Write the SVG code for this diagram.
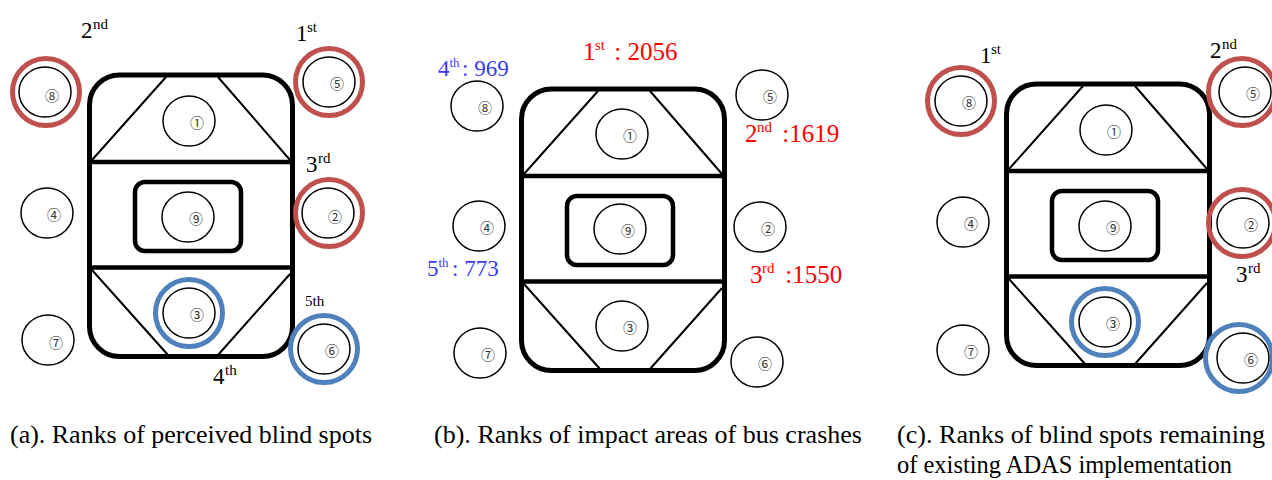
<svg xmlns="http://www.w3.org/2000/svg" xmlns:xlink="http://www.w3.org/1999/xlink" width="1272" height="480" viewBox="0 0 1272 480">
<style>
.outer{fill:none;stroke:#000;stroke-width:5}
.div{stroke:#000;stroke-width:4.5}
.thin{stroke:#000;stroke-width:2}
.inner{fill:none;stroke:#000;stroke-width:4.5}
.c{fill:none;stroke:#000;stroke-width:1.5}
.rr{fill:none;stroke:#c0504d;stroke-width:5}
.rb{fill:none;stroke:#4f81bd;stroke-width:5}
.num{font-family:"Noto Sans CJK JP","DejaVu Sans",sans-serif;font-size:14px;fill:#333;text-anchor:middle;dominant-baseline:central}
.lbl{font-family:"Liberation Serif","Times New Roman",serif;font-size:23px;fill:#000}
.sup{font-size:15px}
.red{fill:#ff0000;font-size:25px}
.blue{fill:#3c3cf0;font-size:23px}
.blue .sup{font-size:13px}
.cap{font-family:"Liberation Serif","Times New Roman",serif;font-size:26px;fill:#000}
</style>
<defs>
<g id="bus">
<rect x="89.5" y="75" width="203" height="281.5" rx="30" class="outer"/>
<line x1="89.5" y1="162" x2="292.5" y2="162" class="div"/>
<line x1="89.5" y1="267.5" x2="292.5" y2="267.5" class="div"/>
<line x1="166" y1="77" x2="92" y2="160" class="thin"/>
<line x1="218" y1="77" x2="290" y2="160" class="thin"/>
<line x1="92" y1="270" x2="168" y2="355" class="thin"/>
<line x1="290" y1="274" x2="218" y2="355" class="thin"/>
<rect x="135" y="182" width="106" height="69" rx="10" class="inner"/>
</g>
</defs>
<g id="connectors"/>

<!-- Panel (a) -->
<g id="a-bus"><use xlink:href="#bus"/></g>
<g id="a-n1"><ellipse cx="189" cy="121" rx="26" ry="25" class="c"/><text x="197" y="122" class="num">①</text></g>
<g id="a-n9"><ellipse cx="188" cy="217" rx="26" ry="25" class="c"/><text x="196" y="218" class="num">⑨</text></g>
<g id="a-n3"><circle cx="189" cy="313" r="33.5" class="rb"/><ellipse cx="189" cy="313" rx="26" ry="25" class="c"/><text x="197" y="314" class="num">③</text></g>
<g id="a-n8"><circle cx="46" cy="92" r="33.5" class="rr"/><ellipse cx="45" cy="92" rx="26" ry="25" class="c"/><text x="52" y="95" class="num">⑧</text></g>
<g id="a-n5"><circle cx="329" cy="82" r="33.5" class="rr"/><ellipse cx="329" cy="82" rx="26" ry="25" class="c"/><text x="337" y="83" class="num">⑤</text></g>
<g id="a-n4"><ellipse cx="47" cy="213" rx="26" ry="25" class="c"/><text x="54" y="214" class="num">④</text></g>
<g id="a-n2"><circle cx="329" cy="213" r="33.5" class="rr"/><ellipse cx="328" cy="213" rx="26" ry="25" class="c"/><text x="335" y="216" class="num">②</text></g>
<g id="a-n7"><ellipse cx="48" cy="340" rx="26" ry="25" class="c"/><text x="56" y="342" class="num">⑦</text></g>
<g id="a-n6"><circle cx="324" cy="349" r="33.5" class="rb"/><ellipse cx="324" cy="349" rx="26" ry="25" class="c"/><text x="332" y="350" class="num">⑥</text></g>
<g id="a-labels">
<text class="lbl" x="81" y="38">2<tspan class="sup" x="93" y="29">nd</tspan></text>
<text class="lbl" x="296" y="41">1<tspan class="sup" x="307" y="32">st</tspan></text>
<text class="lbl" x="306" y="172">3<tspan class="sup" x="318" y="163">rd</tspan></text>
<text class="lbl" x="305" y="306" style="font-size:15px">5th</text>
<text class="lbl" x="213" y="384">4<tspan class="sup" x="225" y="375">th</tspan></text>
</g>

<!-- Panel (b) -->
<g id="b-bus" transform="translate(432,14)"><use xlink:href="#bus"/></g>
<g id="b-n1"><ellipse cx="622" cy="134" rx="26" ry="25" class="c"/><text x="630" y="135" class="num">①</text></g>
<g id="b-n9"><ellipse cx="620" cy="229" rx="26" ry="25" class="c"/><text x="628" y="230" class="num">⑨</text></g>
<g id="b-n3"><ellipse cx="622" cy="326" rx="26" ry="25" class="c"/><text x="630" y="327" class="num">③</text></g>
<g id="b-n8"><ellipse cx="477" cy="106" rx="26" ry="25" class="c"/><text x="485" y="107" class="num">⑧</text></g>
<g id="b-n5"><ellipse cx="762" cy="95" rx="26" ry="25" class="c"/><text x="770" y="96" class="num">⑤</text></g>
<g id="b-n4"><ellipse cx="479" cy="226" rx="26" ry="25" class="c"/><text x="487" y="227" class="num">④</text></g>
<g id="b-n2"><ellipse cx="760" cy="227" rx="26" ry="25" class="c"/><text x="768" y="228" class="num">②</text></g>
<g id="b-n7"><ellipse cx="480" cy="353" rx="26" ry="25" class="c"/><text x="488" y="354" class="num">⑦</text></g>
<g id="b-n6"><ellipse cx="757" cy="362" rx="26" ry="25" class="c"/><text x="765" y="363" class="num">⑥</text></g>
<g id="b-labels">
<text class="lbl red" x="583" y="60">1<tspan class="sup" x="595" y="50">st</tspan><tspan x="608" y="60"> : 2056</tspan></text>
<text class="lbl blue" x="438" y="76">4<tspan class="sup" x="449.5" y="67">th</tspan><tspan x="462" y="76">: 969</tspan></text>
<text class="lbl red" x="745" y="142">2<tspan class="sup" x="757" y="132">nd</tspan><tspan x="776" y="142"> :1619</tspan></text>
<text class="lbl blue" x="427" y="276">5<tspan class="sup" x="438.5" y="267">th</tspan><tspan x="452" y="276">: 773</tspan></text>
<text class="lbl red" x="750" y="283">3<tspan class="sup" x="762" y="273">rd</tspan><tspan x="779" y="283"> :1550</tspan></text>
</g>

<!-- Panel (c) -->
<g id="c-bus" transform="translate(917,9)"><use xlink:href="#bus"/></g>
<g id="c-n1"><ellipse cx="1106" cy="130" rx="26" ry="25" class="c"/><text x="1114" y="131" class="num">①</text></g>
<g id="c-n9"><ellipse cx="1105" cy="226" rx="26" ry="25" class="c"/><text x="1113" y="227" class="num">⑨</text></g>
<g id="c-n3"><circle cx="1105" cy="322" r="33.5" class="rb"/><ellipse cx="1105" cy="322" rx="26" ry="25" class="c"/><text x="1113" y="323" class="num">③</text></g>
<g id="c-n8"><circle cx="961" cy="101" r="33.5" class="rr"/><ellipse cx="961" cy="101" rx="26" ry="25" class="c"/><text x="969" y="102" class="num">⑧</text></g>
<g id="c-n5"><circle cx="1242" cy="92" r="33.5" class="rr"/><ellipse cx="1245" cy="92" rx="26" ry="25" class="c"/><text x="1253" y="93" class="num">⑤</text></g>
<g id="c-n4"><ellipse cx="963" cy="222" rx="26" ry="25" class="c"/><text x="971" y="223" class="num">④</text></g>
<g id="c-n2"><circle cx="1242" cy="223" r="33.5" class="rr"/><ellipse cx="1243" cy="223" rx="26" ry="25" class="c"/><text x="1251" y="224" class="num">②</text></g>
<g id="c-n7"><ellipse cx="963" cy="350" rx="26" ry="25" class="c"/><text x="971" y="351" class="num">⑦</text></g>
<g id="c-n6"><circle cx="1239" cy="358" r="33.5" class="rb"/><ellipse cx="1243" cy="358" rx="26" ry="25" class="c"/><text x="1251" y="359" class="num">⑥</text></g>
<g id="c-labels">
<text class="lbl" x="980" y="63">1<tspan class="sup" x="991" y="54">st</tspan></text>
<text class="lbl" x="1210" y="58">2<tspan class="sup" x="1222" y="49">nd</tspan></text>
<text class="lbl" x="1236" y="282">3<tspan class="sup" x="1248" y="273">rd</tspan></text>
</g>

<!-- Captions -->
<g id="captions">
<text class="cap" x="10" y="443" textLength="362" lengthAdjust="spacingAndGlyphs">(a). Ranks of perceived blind spots</text>
<text class="cap" x="434" y="443" textLength="428" lengthAdjust="spacingAndGlyphs">(b). Ranks of impact areas of bus crashes</text>
<text class="cap" x="897" y="443" textLength="368" lengthAdjust="spacingAndGlyphs">(c). Ranks of blind spots remaining</text>
<text class="cap" x="897" y="473" textLength="335" lengthAdjust="spacingAndGlyphs">of existing ADAS implementation</text>
</g>
</svg>
